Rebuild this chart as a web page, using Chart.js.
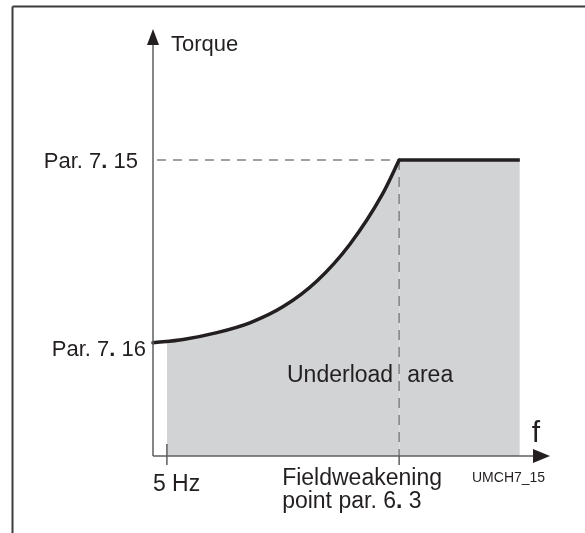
<!DOCTYPE html>
<html>
<head>
<meta charset="utf-8">
<script src="https://cdn.jsdelivr.net/npm/chart.js@4/dist/chart.umd.min.js"></script>
<style>
  body { margin: 0; background: #fff; }
  canvas { display: block; }
</style>
</head>
<body>
<canvas id="chart" width="585" height="533"></canvas>
<script>
// torque limit curve, both axes in 0-100 units
const curveX = [0, 7.6, 16.1, 24.4, 32.8, 41.3, 49.6, 57.9, 62];
const curveY = [26.5, 27.3, 28.9, 31.2, 35.0, 41.0, 49.6, 61.5, 69.3];
const flatX = [62, 92.4];
const flatY = [69.3, 69.3];
// underload area begins at 5 Hz
const fillStartX = 3.5;
const fillStartY = 26.8;

const yTickValues = [26.5, 69.3];
const yTickLabels = ['Par. 7. 16', 'Par. 7. 15'];
const xTickValues = [3.5, 62];
const xTickLabels = [['5 Hz'], ['Fieldweakening', 'point par. 6. 3']];
const yAxisTitle = 'Torque';
const xAxisTitle = 'f';
const areaLabel = ['Underload', 'area'];
const figureId = 'UMCH7_15';

const INK = '#231f20';
const AXIS = '#5d5e60';
const DASH = '#808285';
const AREA = '#d1d3d4';
const FONT = '"Liberation Sans", Arial, sans-serif';

const toPoints = (xs, ys) => xs.map((x, i) => ({ x: x, y: ys[i] }));
const curvePts = toPoints(curveX, curveY);
const fillPts = [{ x: fillStartX, y: fillStartY }].concat(curvePts.filter(p => p.x > fillStartX));
const peak = curvePts[curvePts.length - 1];

// "7. 15" style parameter numbers have a bold dot
function drawLabel(ctx, text, x, y, align, size) {
    const parts = text.split(/(?<=\d)(\.)(?= \d)/);
    const fonts = parts.map((p, i) => (i % 2 ? 'bold ' : '') + size + 'px ' + FONT);
    let total = 0;
    const widths = parts.map((p, i) => {
        ctx.font = fonts[i];
        const w = ctx.measureText(p).width;
        total += w;
        return w;
    });
    let cx = align === 'right' ? x - total : align === 'center' ? x - total / 2 : x;
    ctx.textAlign = 'left';
    ctx.textBaseline = 'alphabetic';
    ctx.fillStyle = INK;
    parts.forEach((p, i) => {
        ctx.font = fonts[i];
        ctx.fillText(p, cx, y);
        cx += widths[i];
    });
}

function line(ctx, x1, y1, x2, y2) {
    ctx.beginPath();
    ctx.moveTo(x1, y1);
    ctx.lineTo(x2, y2);
    ctx.stroke();
}

const diagramPlugin = {
    id: 'diagram',
    beforeDraw(chart) {
        const ctx = chart.ctx;
        ctx.save();
        // frame
        ctx.strokeStyle = '#3c3c3c';
        ctx.lineWidth = 2;
        line(ctx, 12.5, 533, 12.5, 6.5);
        line(ctx, 12.5, 6.5, 585, 6.5);
        ctx.restore();
    },
    afterDatasetsDraw(chart) {
        const ctx = chart.ctx;
        const xs = chart.scales.x, ys = chart.scales.y;
        const x0 = xs.getPixelForValue(0), y0 = ys.getPixelForValue(0);
        const xEnd = xs.getPixelForValue(xs.max), yEnd = ys.getPixelForValue(ys.max);
        ctx.save();
        ctx.strokeStyle = AXIS;
        ctx.fillStyle = INK;
        ctx.lineWidth = 1.5;
        // axes with arrow heads
        line(ctx, x0, y0, x0, yEnd + 15);
        line(ctx, x0, y0, xEnd - 15, y0);
        ctx.beginPath();
        ctx.moveTo(x0, yEnd);
        ctx.lineTo(x0 - 6, yEnd + 16);
        ctx.lineTo(x0 + 6, yEnd + 16);
        ctx.closePath();
        ctx.fill();
        ctx.beginPath();
        ctx.moveTo(xEnd, y0);
        ctx.lineTo(xEnd - 17, y0 - 7);
        ctx.lineTo(xEnd - 17, y0 + 7);
        ctx.closePath();
        ctx.fill();
        // x tick marks
        const px5 = xs.getPixelForValue(xTickValues[0]);
        line(ctx, px5, y0 - 12, px5, y0 + 9);
        const pxFw = xs.getPixelForValue(xTickValues[1]);
        line(ctx, pxFw, y0, pxFw, y0 + 9);
        ctx.restore();
    },
    afterDraw(chart) {
        const ctx = chart.ctx;
        const xs = chart.scales.x, ys = chart.scales.y;
        const x0 = xs.getPixelForValue(0), y0 = ys.getPixelForValue(0);
        const yEnd = ys.getPixelForValue(ys.max);
        const xEnd = xs.getPixelForValue(xs.max);
        ctx.save();
        // y tick labels
        const yOff = [{ dx: -7, dy: 13 }, { dx: -15, dy: 8 }];
        yTickValues.forEach((v, i) => {
            drawLabel(ctx, yTickLabels[i], x0 + yOff[i].dx, ys.getPixelForValue(v) + yOff[i].dy, 'right', 22);
        });
        // x tick labels
        const xOff = [{ dx: -14, dy: 35 }, { dx: -117, dy: 29 }];
        xTickValues.forEach((v, i) => {
            const px = xs.getPixelForValue(v);
            xTickLabels[i].forEach((t, j) => {
                drawLabel(ctx, t, px + xOff[i].dx, y0 + xOff[i].dy + j * 23, 'left', 23);
            });
        });
        // axis titles
        drawLabel(ctx, yAxisTitle, x0 + 18, yEnd + 22, 'left', 22);
        drawLabel(ctx, xAxisTitle, xEnd - 14, y0 - 14, 'center', 30);
        // area label, split around the dashed line
        const pxFw = xs.getPixelForValue(xTickValues[1]);
        drawLabel(ctx, areaLabel[0], pxFw - 6, 382, 'right', 23);
        drawLabel(ctx, areaLabel[1], pxFw + 8, 382, 'left', 23);
        drawLabel(ctx, figureId, xEnd - 78, y0 + 26, 'left', 14);
        ctx.restore();
    }
};

new Chart(document.getElementById('chart'), {
    type: 'line',
    data: {
        datasets: [
            {
                // torque curve
                data: curvePts,
                borderColor: INK,
                borderWidth: 3.5,
                borderCapStyle: 'round',
                cubicInterpolationMode: 'monotone',
                pointRadius: 0,
                fill: false,
                clip: false,
                order: 1
            },
            {
                // constant torque above fieldweakening point
                data: toPoints(flatX, flatY),
                borderColor: INK,
                borderWidth: 3.5,
                pointRadius: 0,
                fill: 'origin',
                backgroundColor: AREA,
                clip: false,
                order: 4
            },
            {
                // underload area below the curve
                data: fillPts,
                borderWidth: 0,
                borderColor: 'rgba(0,0,0,0)',
                cubicInterpolationMode: 'monotone',
                pointRadius: 0,
                fill: 'origin',
                backgroundColor: AREA,
                order: 5
            },
            {
                // guide to Par. 7. 15
                data: [{ x: 1, y: peak.y }, { x: peak.x, y: peak.y }],
                borderColor: DASH,
                borderWidth: 1.5,
                borderDash: [9, 7],
                pointRadius: 0,
                fill: false,
                order: 2
            },
            {
                // fieldweakening point guide
                data: [{ x: peak.x, y: peak.y }, { x: peak.x, y: 0 }],
                borderColor: DASH,
                borderWidth: 1.5,
                borderDash: [10, 7],
                pointRadius: 0,
                fill: false,
                order: 2
            }
        ]
    },
    options: {
        responsive: false,
        animation: false,
        devicePixelRatio: 1,
        layout: { padding: { left: 153, right: 35, top: 29, bottom: 77 } },
        scales: {
            x: { type: 'linear', min: 0, max: 100, display: false },
            y: { type: 'linear', min: 0, max: 100, display: false }
        },
        plugins: {
            legend: { display: false },
            tooltip: { enabled: false }
        }
    },
    plugins: [diagramPlugin]
});
</script>
</body>
</html>
